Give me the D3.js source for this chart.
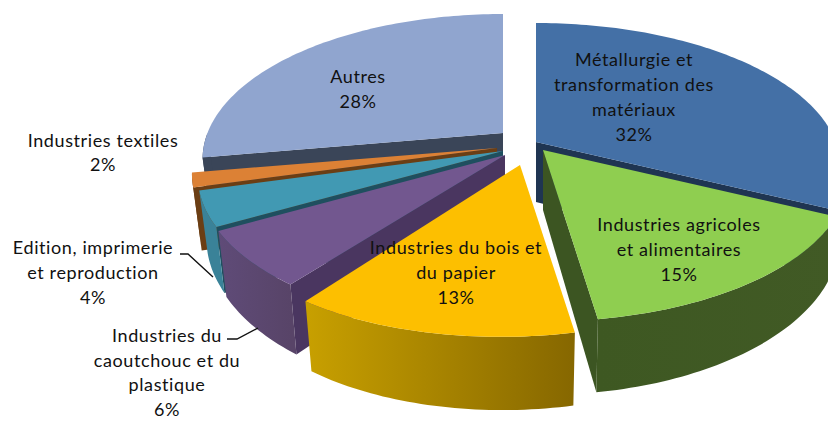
<!DOCTYPE html>
<html><head><meta charset="utf-8">
<script src="https://cdn.jsdelivr.net/npm/d3@7"></script>
<style>html,body{margin:0;padding:0;background:#fff;overflow:hidden}svg{display:block}</style>
</head><body><svg id="c" width="828" height="421"></svg>
<script>
// data (clockwise from 12 o'clock)
const categories = ["Métallurgie et transformation des matériaux","Industries agricoles et alimentaires","Industries du bois et du papier","Industries du caoutchouc et du plastique","Edition, imprimerie et reproduction","Industries textiles","Autres"];
const values = [32.2,15.4,12.9,6.3,3.9,1.6,27.7];
const labelLines = [["Métallurgie et","transformation des","matériaux"],["Industries agricoles","et alimentaires"],["Industries du bois et","du papier"],["Industries du","caoutchouc et du","plastique"],["Edition, imprimerie","et reproduction"],["Industries textiles"],["Autres"]];

// styling and layout
const topColors  = ["#4470a6","#8fce50","#fdbf00","#72578f","#4199b3","#dc8135","#90a5cf"];
const wallColors = ["#2f5078",["#3e5822","#415a25"],["#c8a000","#866700"],["#5f4b78","#584468"],"#3a8298","#6b3e14","#3a4558"];
const faceColors = ["#1f3552","#3c5522","#8a6a00","#4a3660","#1f4f5f","#6b3e14","#3a4558"];
const apexX = [536,543,520,505,503,497,503];
const apexY = [142,150,165,155,151,148,133];
const radiusScale = [1,1,1,1,1,1,0.985];
const shearY = [0,0,-11,0,0,0,0];
const labelX = [634,679,456,167,93,103,358];
const labelY = [66,231,254,342,254,147,83];
const lineGap = [25,25,25,24.5,25,24,25];
const leaders = [[[180,254],[188,254],[213,277]],[[227,339],[237,339],[258,328]]];
const RX=300, RY=140.5, PERSP=0.181, DEPTH=60, SHRINK=0.972;

const svg = d3.select("#c");
const defs = svg.append("defs");
const pie = d3.pie().sort(null).value(d=>d).startAngle(0).endAngle(2*Math.PI);
const arcs = pie(values);
const xs = d3.scaleLinear().domain([0,1]).range([0,RX]);
const ys = d3.scaleLinear().domain([0,1]).range([0,-RY]);

function pt(i,theta,r,low){
  const X=r*Math.sin(theta), Z=r*Math.cos(theta), s=1/(1+PERSP*Z);
  const x=apexX[i]+xs(X*s)*(low?SHRINK:1)*(X<0?radiusScale[i]:1);
  const y=apexY[i]+ys(Z*s)+(low?DEPTH*s:0)+shearY[i]*X;
  return [x,y];
}
function arcPts(i,a0,a1,low){
  const n=Math.max(2,Math.ceil(Math.abs(a1-a0)/0.02));
  return d3.range(n+1).map(k=>pt(i,a0+(a1-a0)*k/n,1,low));
}
const line=d3.line().curve(d3.curveLinear);
const order=[6,5,4,3,0,1,2];

order.forEach(i=>{
  const a=arcs[i], g=svg.append("g").attr("class","slice");
  const PI=Math.PI;
  let faceA=null;
  if(a.endAngle<PI) faceA=a.endAngle; else if(a.startAngle>PI) faceA=a.startAngle;
  if(faceA!==null){
    const f=[pt(i,faceA,0,false),pt(i,faceA,1,false),pt(i,faceA,1,true),pt(i,faceA,0,true)];
    g.append("path").attr("d",line(f)+"Z").attr("fill",faceColors[i]);
  }
  const w0=Math.max(a.startAngle,PI/2), w1=Math.min(a.endAngle,1.5*PI);
  if(w1>w0){
    const up=arcPts(i,w0,w1,false), lo=arcPts(i,w0,w1,true).reverse();
    let fill=wallColors[i];
    if(Array.isArray(fill)){
      const id="wall"+i, xe=d3.extent(up,p=>p[0]);
      const gr=defs.append("linearGradient").attr("id",id).attr("gradientUnits","userSpaceOnUse")
        .attr("x1",xe[0]).attr("x2",xe[1]).attr("y1",0).attr("y2",0);
      gr.append("stop").attr("offset",0).attr("stop-color",fill[0]);
      gr.append("stop").attr("offset",1).attr("stop-color",fill[1]);
      fill=`url(#${id})`;
    }
    g.append("path").attr("d",line(up.concat(lo))+"Z").attr("fill",fill);
  }
  const top=[pt(i,a.startAngle,0,false)].concat(arcPts(i,a.startAngle,a.endAngle,false));
  g.append("path").attr("d",line(top)+"Z").attr("fill",topColors[i]);
});

leaders.forEach(l=>svg.append("path").attr("d",line(l)).attr("fill","none").attr("stroke","#111").attr("stroke-width",1.4));

labelLines.forEach((lines,i)=>{
  const t=svg.append("text").attr("text-anchor","middle").attr("font-family","Lato, 'Open Sans', sans-serif")
    .attr("font-size",18).attr("letter-spacing",0.6).attr("fill","#111");
  lines.concat([Math.round(values[i])+"%"]).forEach((s,k)=>{
    t.append("tspan").attr("x",labelX[i]).attr("y",labelY[i]+k*lineGap[i]).text(s);
  });
});
</script></body></html>
